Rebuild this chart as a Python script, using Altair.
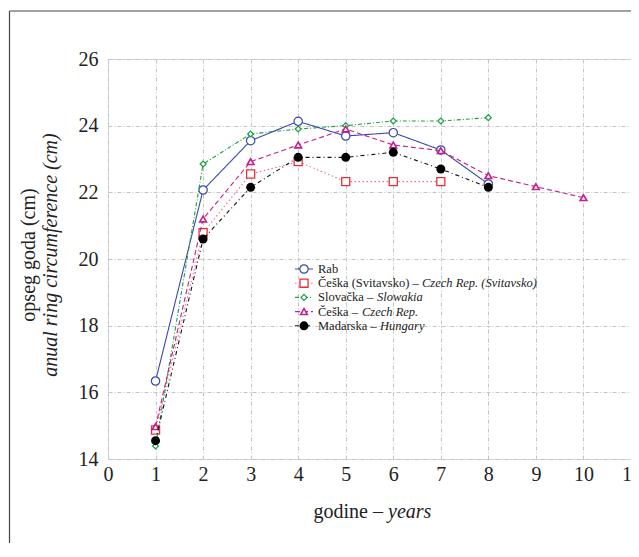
import altair as alt
import pandas as pd

# ---- data ----
years = [1, 2, 3, 4, 5, 6, 7, 8, 9, 10]
rab = [16.34, 22.07, 23.55, 24.13, 23.69, 23.79, 23.27, 22.25]
svitavsko = [14.87, 20.79, 22.55, 22.92, 22.32, 22.32, 22.32]
slovacka = [14.39, 22.85, 23.75, 23.90, 24.00, 24.14, 24.14, 24.24]
ceska = [14.97, 21.20, 22.92, 23.42, 23.90, 23.42, 23.25, 22.50, 22.17, 21.84]
madarska = [14.55, 20.60, 22.15, 23.05, 23.05, 23.20, 22.70, 22.15]

label_regular = ["Rab", "Češka (Svitavsko) –", "Slovačka –", "Češka –", "Madarska –"]
label_italic = ["", "Czech Rep. (Svitavsko)", "Slowakia", "Czech Rep.", "Hungary"]

x_ticks = list(range(0, 12))
y_ticks = list(range(14, 27, 2))

# ---- styles ----
FONT = "Liberation Serif, 'Times New Roman', Times, serif"
styles = [
    dict(values=rab, color="#3A4AAE", mcolor="#3A4AAE", dash=[1, 0], shape="circle", filled=False, size=70, sw=1.2),
    dict(values=svitavsko, color="#F0707A", mcolor="#E8303C", dash=[1.5, 2.5], shape="square", filled=False, size=65, sw=1.3),
    dict(values=slovacka, color="#1E9E46", mcolor="#1E9E46", dash=[4, 2, 1, 2], shape="diamond", filled=False, size=35, sw=1.2),
    dict(values=ceska, color="#C51F8E", mcolor="#C51F8E", dash=[5, 3], shape="triangle-up", filled=False, size=45, sw=1.6),
    dict(values=madarska, color="#111111", mcolor="#000000", dash=[4, 3, 1, 3], shape="circle", filled=True, size=80, sw=1.0),
]

xscale = alt.Scale(domain=[0, 11], nice=False, zero=False)
yscale = alt.Scale(domain=[14, 26], nice=False, zero=False)

xaxis = alt.Axis(values=x_ticks, grid=True, gridDash=[4, 2, 1, 2], gridColor="#c4c4c4",
                 domain=False, ticks=False, labelFontSize=20, labelFont=FONT,
                 labelColor="#222222", labelPadding=5, title=None, labelFlush=False,
                 format="d")
yaxis = alt.Axis(values=y_ticks, grid=True, gridDash=[4, 2, 1, 2], gridColor="#c4c4c4",
                 domain=False, ticks=False, labelFontSize=20, labelFont=FONT,
                 labelColor="#222222", labelPadding=10, title=None, labelFlush=False,
                 format="d")

layers = []
for i, st in enumerate(styles):
    df = pd.DataFrame({"x": years[:len(st["values"])], "y": st["values"]})
    enc = dict(x=alt.X("x:Q", scale=xscale, axis=xaxis), y=alt.Y("y:Q", scale=yscale, axis=yaxis))
    line = alt.Chart(df).mark_line(color=st["color"], strokeDash=st["dash"], strokeWidth=1.1).encode(**enc)
    pts = alt.Chart(df).mark_point(shape=st["shape"], filled=st["filled"], size=st["size"],
                                   color=st["mcolor"], fill=st["mcolor"] if st["filled"] else "white",
                                   strokeWidth=st["sw"], opacity=1).encode(**enc)
    layers += [line, pts]

one = pd.DataFrame({"a": [0]})

# ---- legend (drawn manually to allow mixed italic text) ----
italic_offsets = [0, 104, 59, 44, 62]
for i, st in enumerate(styles):
    yy = 210 + i * 14.2
    layers.append(alt.Chart(one).mark_rule(color=st["color"], strokeDash=st["dash"], strokeWidth=1.1).encode(
        x=alt.value(187), x2=alt.value(205), y=alt.value(yy)))
    layers.append(alt.Chart(one).mark_point(shape=st["shape"], filled=st["filled"], size=st["size"],
                                            color=st["mcolor"], fill=st["mcolor"] if st["filled"] else "white",
                                            strokeWidth=st["sw"], opacity=1).encode(
        x=alt.value(196), y=alt.value(yy)))
    layers.append(alt.Chart(one).mark_text(align="left", baseline="middle", font=FONT, fontSize=12.5,
                                           color="#222222").encode(
        x=alt.value(210), y=alt.value(yy), text=alt.value(label_regular[i])))
    if label_italic[i]:
        layers.append(alt.Chart(one).mark_text(align="left", baseline="middle", font=FONT, fontSize=12.5,
                                               fontStyle="italic", color="#222222").encode(
            x=alt.value(210 + italic_offsets[i]), y=alt.value(yy), text=alt.value(label_italic[i])))

# ---- axis titles ----
layers.append(alt.Chart(one).mark_text(align="center", baseline="alphabetic", angle=270, font=FONT,
                                       fontSize=20, color="#222222").encode(
    x=alt.value(-73), y=alt.value(196), text=alt.value("opseg goda (cm)")))
layers.append(alt.Chart(one).mark_text(align="center", baseline="alphabetic", angle=270, font=FONT,
                                       fontSize=20, fontStyle="italic", color="#222222").encode(
    x=alt.value(-51), y=alt.value(196), text=alt.value("anual ring circumference (cm)")))
layers.append(alt.Chart(one).mark_text(align="right", baseline="alphabetic", font=FONT,
                                       fontSize=20, color="#222222").encode(
    x=alt.value(275), y=alt.value(459), text=alt.value("godine –")))
layers.append(alt.Chart(one).mark_text(align="left", baseline="alphabetic", font=FONT,
                                       fontSize=20, fontStyle="italic", color="#222222").encode(
    x=alt.value(280), y=alt.value(459), text=alt.value("years")))

# ---- outer frame ----
layers.append(alt.Chart(one).mark_rule(color="#444444", strokeWidth=1.2, clip=False).encode(
    x=alt.value(-98.5), y=alt.value(-48), y2=alt.value(560)))
layers.append(alt.Chart(one).mark_rule(color="#444444", strokeWidth=1.2, clip=False).encode(
    x=alt.value(-98.5), x2=alt.value(560), y=alt.value(-48)))

chart = alt.layer(*layers).properties(
    width=523, height=400,
    autosize=alt.AutoSizeParams(type="none"),
    padding={"left": 100, "top": 51, "right": 0, "bottom": 84},
).configure_view(stroke="#333333", strokeWidth=1.2).configure(background="white")

chart.save("out.html", embed_options={"renderer": "svg", "actions": False})
